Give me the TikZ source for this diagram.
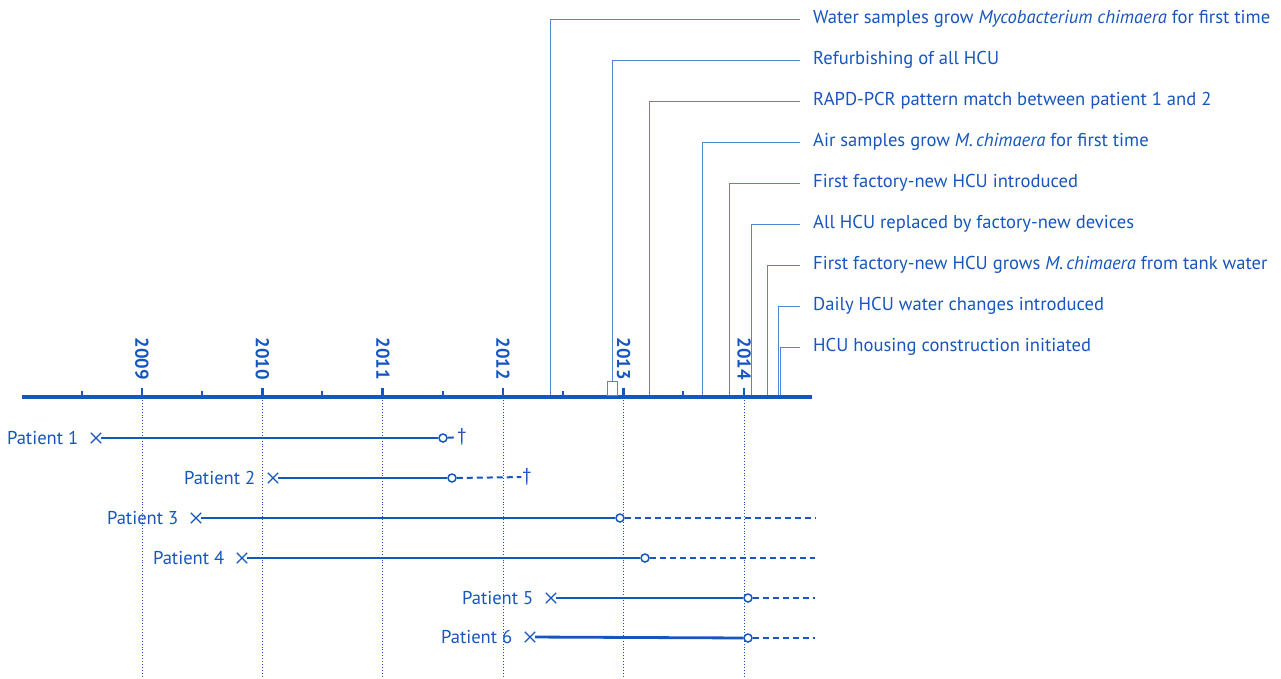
\documentclass[tikz,border=0pt]{standalone}
\usepackage{fontspec}
\setmainfont{PT Sans}
\usetikzlibrary{positioning,shapes.misc}
\definecolor{tlblue}{RGB}{22,86,190}
\definecolor{evblue}{RGB}{84,132,212}

\begin{document}
\begin{tikzpicture}[x=1pt,y=-1pt,font=\fontsize{18.6}{22}\selectfont,
   every node/.style={text=tlblue},
   ev/.style={anchor=west,inner xsep=13pt,inner ysep=0pt},
   evline/.style={evblue,line width=1pt},
   yr/.style={rotate=-90,anchor=east,inner sep=1pt,font=\fontsize{18.6}{22}\selectfont\bfseries},
   yrgrid/.style={tlblue,dotted,line width=0.9pt},
   lifeline/.style={tlblue,line width=2.8pt},
   postline/.style={tlblue,line width=2pt,dash pattern=on 6pt off 4pt},
   xmark/.style={cross out,draw=tlblue,line width=1.3pt,minimum size=9pt,inner sep=0pt},
   endmark/.style={circle,draw=tlblue,fill=white,line width=1.5pt,minimum size=8pt,inner sep=0pt},
   pt/.style={left=9pt of #1}]
   \useasboundingbox (0,0) rectangle (1281,678);

   % time axis
   \coordinate (ax0) at (22,397);
   \coordinate (ax1) at (812,397);
   \draw[tlblue,line width=4pt] (ax0) -- (ax1);

   % years
   \node[yr] (y2009) at (142,381) {2009};
   \node[yr] (y2010) at (262.5,381) {2010};
   \node[yr] (y2011) at (382.8,381) {2011};
   \node[yr] (y2012) at (503,381) {2012};
   \node[yr] (y2013) at (623.5,381) {2013};
   \node[yr] (y2014) at (744,381) {2014};

   \draw[tlblue,line width=2.8pt] (142,388) -- (142,397);
   \draw[tlblue,line width=2.8pt] (262.5,388) -- (262.5,397);
   \draw[tlblue,line width=2.8pt] (382.8,388) -- (382.8,397);
   \draw[tlblue,line width=2.8pt] (503,388) -- (503,397);
   \draw[tlblue,line width=2.8pt] (623.5,388) -- (623.5,397);
   \draw[tlblue,line width=2.8pt] (744,388) -- (744,397);

   \draw[tlblue,line width=2.2pt] (82,391) -- (82,397);
   \draw[tlblue,line width=2.2pt] (202,391) -- (202,397);
   \draw[tlblue,line width=2.2pt] (322,391) -- (322,397);
   \draw[tlblue,line width=2.2pt] (443,391) -- (443,397);
   \draw[tlblue,line width=2.2pt] (563,391) -- (563,397);
   \draw[tlblue,line width=2.2pt] (683,391) -- (683,397);

   \draw[yrgrid] (142,400) -- (142,678);
   \draw[yrgrid] (262.5,400) -- (262.5,678);
   \draw[yrgrid] (382.8,400) -- (382.8,678);
   \draw[yrgrid] (503,400) -- (503,678);
   \draw[yrgrid] (623.5,400) -- (623.5,678);
   \draw[yrgrid] (744,400) -- (744,678);

   % events
   \node[ev] (l1) at (800,19) {Water samples grow \textit{Mycobacterium chimaera} for first time};
   \node[ev] (l2) at (800,60) {Refurbishing of all HCU};
   \node[ev] (l3) at (800,101) {RAPD-PCR pattern match between patient 1 and 2};
   \node[ev] (l4) at (800,142) {Air samples grow \textit{M.\,chimaera} for first time};
   \node[ev] (l5) at (800,183) {First factory-new HCU introduced};
   \node[ev] (l6) at (800,224) {All HCU replaced by factory-new devices};
   \node[ev] (l7) at (800,265) {First factory-new HCU grows \textit{M.\,chimaera} from tank water};
   \node[ev] (l8) at (800,306) {Daily HCU water changes introduced};
   \node[ev] (l9) at (800,347) {HCU housing construction initiated};

   \coordinate (e1) at (550,395);
   \node[draw=evblue,line width=1pt,minimum width=10pt,minimum height=14pt,inner sep=0pt,anchor=south] (e2) at (612,395.5) {};
   \coordinate (e3) at (649,395);
   \coordinate (e4) at (702,395);
   \coordinate (e5) at (729,395);
   \coordinate (e6) at (751.5,395);
   \coordinate (e7) at (767.5,395);
   \coordinate (e8) at (778,395);
   \coordinate (e9) at (780.5,395);

   \draw[evline] (e1) |- (l1.west);
   \draw[evline] (e2.north) |- (l2.west);
   \draw[evline] (e3) |- (l3.west);
   \draw[evline] (e4) |- (l4.west);
   \draw[evline] (e5) |- (l5.west);
   \draw[evline] (e6) |- (l6.west);
   \draw[evline] (e7) |- (l7.west);
   \draw[evline] (e8) |- (l8.west);
   \draw[evline] (e9) |- (l9.west);

   % patients
   \node[xmark] (x1) at (96,438) {};
   \node[xmark] (x2) at (273,478) {};
   \node[xmark] (x3) at (196,518) {};
   \node[xmark] (x4) at (242,558) {};
   \node[xmark] (x5) at (551,598) {};
   \node[xmark] (x6) at (530,637) {};

   \node[pt=x1] (p1) {Patient 1};
   \node[pt=x2] (p2) {Patient 2};
   \node[pt=x3] (p3) {Patient 3};
   \node[pt=x4] (p4) {Patient 4};
   \node[pt=x5] (p5) {Patient 5};
   \node[pt=x6] (p6) {Patient 6};

   \node[endmark] (o1) at (443,438) {};
   \node[endmark] (o2) at (452,478) {};
   \node[endmark] (o3) at (620,518) {};
   \node[endmark] (o4) at (645,558) {};
   \node[endmark] (o5) at (748,598) {};
   \node[endmark] (o6) at (748,638) {};

   \node[inner sep=1pt] (d1) at (462,437) {†};
   \node[inner sep=1pt] (d2) at (527,477) {†};
   \coordinate (q3) at (815,518);
   \coordinate (q4) at (815,558);
   \coordinate (q5) at (815,598);
   \coordinate (q6) at (815,638);

   \draw[lifeline] (x1) -- (o1);
   \draw[lifeline] (x2) -- (o2);
   \draw[lifeline] (x3) -- (o3);
   \draw[lifeline] (x4) -- (o4);
   \draw[lifeline] (x5) -- (o5);
   \draw[lifeline] (x6) -- (o6);

   \draw[postline] (o1) -- (d1);
   \draw[postline] (o2) -- (d2);
   \draw[postline] (o3) -- (q3);
   \draw[postline] (o4) -- (q4);
   \draw[postline] (o5) -- (q5);
   \draw[postline] (o6) -- (q6);

\end{tikzpicture}
\end{document}
